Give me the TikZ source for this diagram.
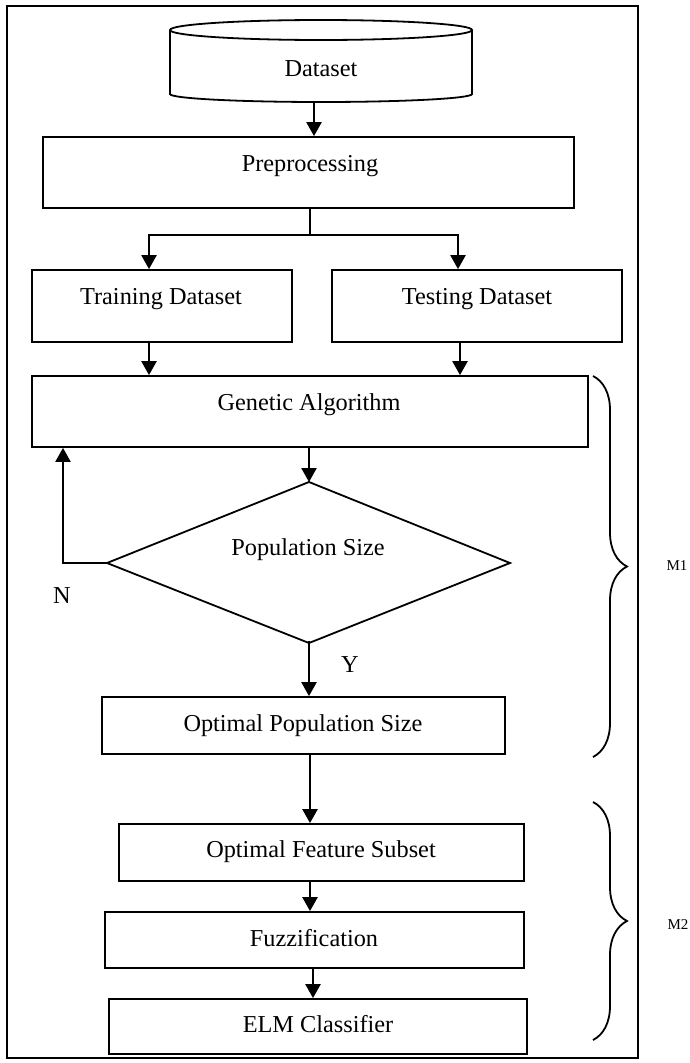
\documentclass[tikz,border=0pt]{standalone}
\usepackage{fontspec}
\setmainfont{Liberation Serif}
\usetikzlibrary{arrows.meta,decorations.pathreplacing}
\begin{document}
\begin{tikzpicture}[x=1pt,y=-1pt,
  box/.style={draw, line width=1.8pt, inner sep=0pt, rectangle},
  txt/.style={anchor=base, inner sep=0pt, font=\fontsize{24.3pt}{28pt}\selectfont},
  small/.style={anchor=base, inner sep=0pt, font=\fontsize{15pt}{17pt}\selectfont},
  arr/.style={line width=2.4pt, -{Triangle[length=14pt,width=15pt]}},
  ln/.style={line width=2.2pt},
  brc/.style={line width=1.8pt, decorate, decoration={brace, amplitude=34pt}}]
\useasboundingbox (0,0) rectangle (690,1063);
% outer frame
\node[box, minimum width=631pt, minimum height=1052pt] (frame) at (322.5,532) {};
% cylinder
\draw[line width=1.8pt] (170,30) -- (170,94) arc[start angle=180, end angle=360, x radius=151pt, y radius=8pt] -- (472,30);
\draw[line width=1.8pt] (321,30) ellipse[x radius=151pt, y radius=10pt];
\node[minimum width=302pt, minimum height=82pt, inner sep=0pt] (ds) at (321,61) {};
\node[txt] (dst) at (321,76) {Dataset};
% boxes
\node[box, minimum width=531pt, minimum height=71pt] (pre) at (308.5,172.5) {};
\node[txt] (pret) at (310,171) {Preprocessing};
\node[box, minimum width=260pt, minimum height=72pt] (train) at (162,306) {};
\node[txt] (traint) at (161,304) {Training Dataset};
\node[box, minimum width=290pt, minimum height=72pt] (test) at (477,306) {};
\node[txt] (testt) at (477,304) {Testing Dataset};
\node[box, minimum width=556pt, minimum height=71pt] (ga) at (310,411.5) {};
\node[txt] (gat) at (309,410) {Genetic Algorithm};
% diamond
\coordinate (dtop) at (309,482);
\coordinate (dright) at (510,563);
\coordinate (dbot) at (309,643);
\coordinate (dleft) at (107,563);
\draw[line width=1.8pt, line join=miter] (dtop) -- (dright) -- (dbot) -- (dleft) -- cycle;
\node[txt] (dec) at (308,555) {Population Size};
\node[txt] (nlab) at (62,603) {N};
\node[txt] (ylab) at (350,672) {Y};
\node[box, minimum width=403pt, minimum height=57pt] (opt) at (303.5,725.5) {};
\node[txt] (optt) at (303,731) {Optimal Population Size};
\node[box, minimum width=405pt, minimum height=57pt] (feat) at (321.5,852.5) {};
\node[txt] (featt) at (321,857) {Optimal Feature Subset};
\node[box, minimum width=419pt, minimum height=56pt] (fuzz) at (314.5,940) {};
\node[txt] (fuzzt) at (314,946) {Fuzzification};
\node[box, minimum width=418pt, minimum height=55pt] (elm) at (318,1026.5) {};
\node[txt] (elmt) at (318,1032) {ELM Classifier};
% connectors
\draw[arr] ([xshift=-7pt]ds.south) -- ([xshift=5.5pt]pre.north);
\coordinate (split) at (310,235);
\draw[ln] ([xshift=1.5pt]pre.south) -- (split);
\draw[arr] (split) -| ([xshift=-13pt]train.north);
\draw[arr] (split) -| ([xshift=-19pt]test.north);
\draw[arr] ([xshift=-13pt]train.south) -- ([xshift=-161pt]ga.north);
\draw[arr] ([xshift=-17pt]test.south) -- ([xshift=150pt]ga.north);
\draw[arr] (ga.south -| dtop) -- (dtop);
\draw[arr] (dleft) -- (63,563) -- (ga.south -| 63,0);
\draw[arr] ([yshift=2pt]dbot) -- (opt.north -| dbot);
\draw[arr] ([xshift=6.5pt]opt.south) -- ([xshift=-11.5pt]feat.north);
\draw[arr] ([xshift=-11.5pt]feat.south) -- ([xshift=-4.5pt]fuzz.north);
\draw[arr] ([xshift=-1.5pt]fuzz.south) -- ([xshift=-5pt]elm.north);
% braces
\coordinate (b1a) at (593,376);
\coordinate (b1b) at (593,757);
\coordinate (b2a) at (593,802);
\coordinate (b2b) at (593,1040);
\draw[brc] (b1a) -- (b1b);
\draw[brc] (b2a) -- (b2b);
\node[small] (m1) at (677,570) {M1};
\node[small] (m2) at (678,929) {M2};
\end{tikzpicture}
\end{document}
